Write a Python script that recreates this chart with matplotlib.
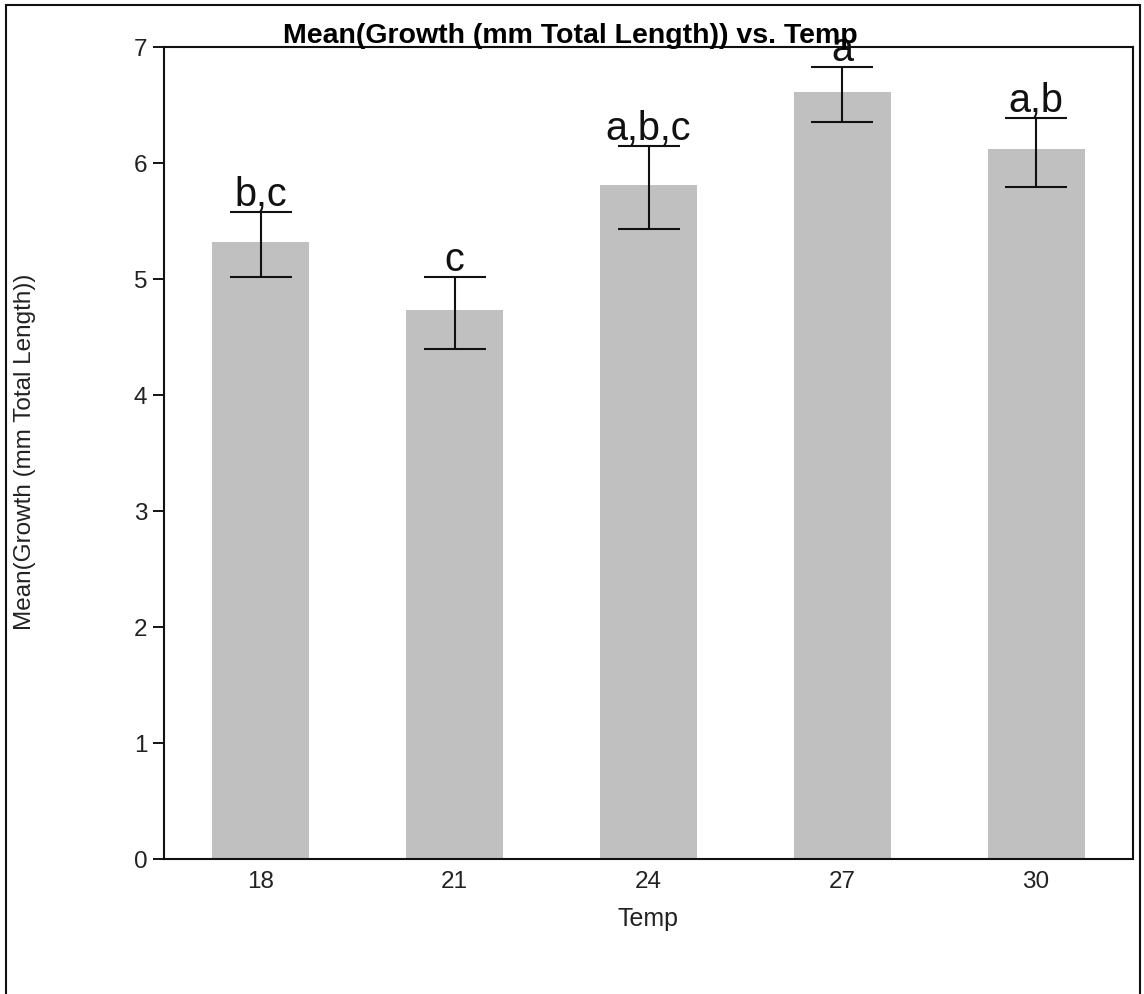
import matplotlib
matplotlib.use("Agg")
from matplotlib import pyplot as plt
from matplotlib.patches import Rectangle

plt.rcParams['font.family'] = ['Liberation Sans', 'DejaVu Sans']

temps = ["18", "21", "24", "27", "30"]
means = [5.32, 4.73, 5.81, 6.61, 6.12]
err_hi = [5.58, 5.02, 6.15, 6.83, 6.39]
err_lo = [5.02, 4.40, 5.43, 6.35, 5.79]
groups = ["b,c", "c", "a,b,c", "a", "a,b"]

fig = plt.figure(figsize=(11.44, 9.94), dpi=100)
ax = fig.add_axes([164 / 1144, 1 - 859 / 994, 969 / 1144, 812 / 994])

x = list(range(len(temps)))
lower = [m - lo for m, lo in zip(means, err_lo)]
upper = [hi - m for m, hi in zip(means, err_hi)]

ax.bar(x, means, width=0.5, color="#c0c0c0", zorder=1)
ax.errorbar(x, means, yerr=[lower, upper], fmt="none", ecolor="#111111",
            elinewidth=1.5, capsize=22.5, capthick=1.5, zorder=2)

# significance letters above each error bar
for xi, top, g in zip(x, err_hi, groups):
    ax.annotate(g, (xi, top), xytext=(0, 4), textcoords="offset points",
                ha="center", va="baseline", fontsize=28.5, color="#111111",
                annotation_clip=False, zorder=3)

ax.set_xlim(-0.5, 4.5)
ax.set_ylim(0, 7)
ax.set_xticks(x)
ax.set_xticklabels(temps)
ax.set_yticks(range(0, 8))
ax.tick_params(axis="x", length=0, pad=9, labelsize=17.5, labelcolor="#222222")
ax.tick_params(axis="y", length=8, width=1.3, pad=4, labelsize=17.5, labelcolor="#222222")
for s in ax.spines.values():
    s.set_linewidth(1.5)
    s.set_color("#111111")

ax.set_xlabel("Temp", fontsize=18, labelpad=10, color="#222222")
fig.text(25 / 1144, 1 - 452 / 994, "Mean(Growth (mm Total Length))",
         rotation=90, ha="center", va="center", fontsize=17.5, color="#222222")
fig.text(570 / 1144, 1 - 43 / 994, "Mean(Growth (mm Total Length)) vs. Temp",
         ha="center", va="baseline", fontsize=20.5, fontweight="bold")

# outer frame around the whole graphic
fig.patches.append(Rectangle((6 / 1144, -0.05), 1134 / 1144, 1 - 5 / 994 + 0.05,
                             transform=fig.transFigure, fill=False,
                             edgecolor="#111111", linewidth=1.5))

fig.savefig("out.png", dpi=100)
